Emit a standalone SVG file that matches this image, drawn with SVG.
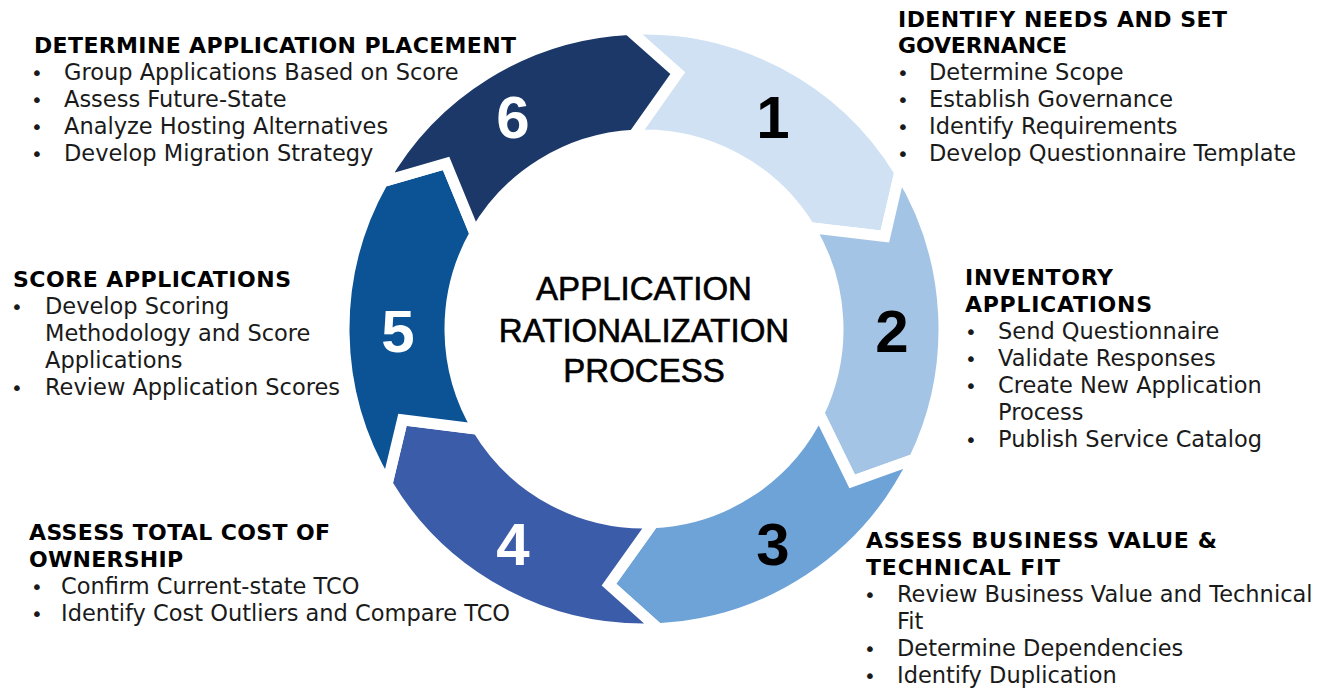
<svg xmlns="http://www.w3.org/2000/svg" width="1329" height="689" viewBox="0 0 1329 689">
<style>
.seg{stroke:#ffffff;stroke-width:11;stroke-linejoin:miter;stroke-miterlimit:10}
.t{font-family:"DejaVu Sans",Verdana,sans-serif;font-size:22px;font-weight:bold;fill:#000}
.b{font-family:"DejaVu Sans",Verdana,sans-serif;font-size:22.5px;fill:#1a1a1a}
.d{font-family:"DejaVu Sans",Verdana,sans-serif;font-size:20px;fill:#1a1a1a;text-anchor:middle}
.num{font-family:"Liberation Sans",Arial,sans-serif;font-size:60px;font-weight:bold;text-anchor:middle}
.ctr{font-family:"Liberation Sans",Arial,sans-serif;font-size:33px;fill:#000;stroke:#000;stroke-width:0.6;text-anchor:middle}
</style>
<rect width="1329" height="689" fill="#ffffff"/>

<g id="step1">
<path class="seg" fill="#cfe1f3" d="M 628.30 29.41 A 300 300 0 0 1 899.79 172.25 L 884.86 236.54 L 809.41 227.64 A 194 194 0 0 0 633.85 135.27 L 677.68 73.21 Z"/>
<text class="num" x="773" y="138" fill="#000">1</text>
<text class="t" x="898" y="27" textLength="329">IDENTIFY NEEDS AND SET</text>
<text class="t" x="898" y="53" textLength="169">GOVERNANCE</text>
<text class="d" x="903" y="80">•</text><text class="b" x="929" y="80">Determine Scope</text>
<text class="d" x="903" y="107">•</text><text class="b" x="929" y="107">Establish Governance</text>
<text class="d" x="903" y="134">•</text><text class="b" x="929" y="134">Identify Requirements</text>
<text class="d" x="903" y="161">•</text><text class="b" x="929" y="161">Develop Questionnaire Template</text>
</g>

<g id="step2">
<path class="seg" fill="#a4c4e6" d="M 899.79 172.25 A 300 300 0 0 1 914.32 459.10 L 852.20 481.38 L 818.81 413.13 A 194 194 0 0 0 809.41 227.64 L 884.86 236.54 Z"/>
<text class="num" x="892" y="352" fill="#000">2</text>
<text class="t" x="965" y="285" textLength="148">INVENTORY</text>
<text class="t" x="965" y="312" textLength="187">APPLICATIONS</text>
<text class="d" x="971" y="339">•</text><text class="b" x="998" y="339">Send Questionnaire</text>
<text class="d" x="971" y="366">•</text><text class="b" x="998" y="366">Validate Responses</text>
<text class="d" x="971" y="393">•</text><text class="b" x="998" y="393">Create New Application</text>
<text class="b" x="998" y="420">Process</text>
<text class="d" x="971" y="447">•</text><text class="b" x="998" y="447">Publish Service Catalog</text>
</g>

<g id="step3">
<path class="seg" fill="#6ea3d8" d="M 914.32 459.10 A 300 300 0 0 1 658.13 628.67 L 608.99 584.61 L 653.14 522.78 A 194 194 0 0 0 818.81 413.13 L 852.20 481.38 Z"/>
<text class="num" x="773" y="565" fill="#000">3</text>
<text class="t" x="866" y="548" textLength="351">ASSESS BUSINESS VALUE &amp;</text>
<text class="t" x="866" y="575" textLength="194">TECHNICAL FIT</text>
<text class="d" x="870" y="602">•</text><text class="b" x="897" y="602">Review Business Value and Technical</text>
<text class="b" x="897" y="629">Fit</text>
<text class="d" x="870" y="656">•</text><text class="b" x="897" y="656">Determine Dependencies</text>
<text class="d" x="870" y="683">•</text><text class="b" x="897" y="683">Identify Duplication</text>
</g>

<g id="step4">
<path class="seg" fill="#3b5ca8" d="M 658.13 628.67 A 300 300 0 0 1 387.12 483.96 L 402.50 419.77 L 477.88 429.21 A 194 194 0 0 0 653.14 522.78 L 608.99 584.61 Z"/>
<text class="num" x="513" y="565" fill="#fff">4</text>
<text class="t" x="29" y="540" textLength="301">ASSESS TOTAL COST OF</text>
<text class="t" x="29" y="567" textLength="154">OWNERSHIP</text>
<text class="d" x="37" y="594">•</text><text class="b" x="61" y="594">Confirm Current-state TCO</text>
<text class="d" x="37" y="621">•</text><text class="b" x="61" y="621">Identify Cost Outliers and Compare TCO</text>
</g>

<g id="step5">
<path class="seg" fill="#0b5395" d="M 387.12 483.96 A 300 300 0 0 1 382.64 181.73 L 446.07 163.51 L 474.98 233.76 A 194 194 0 0 0 477.88 429.21 L 402.50 419.77 Z"/>
<text class="num" x="398" y="352" fill="#fff">5</text>
<text class="t" x="13" y="287" textLength="278">SCORE APPLICATIONS</text>
<text class="d" x="17" y="314">•</text><text class="b" x="45" y="314">Develop Scoring</text>
<text class="b" x="45" y="341">Methodology and Score</text>
<text class="b" x="45" y="368">Applications</text>
<text class="d" x="17" y="395">•</text><text class="b" x="45" y="395">Review Application Scores</text>
</g>

<g id="step6">
<path class="seg" fill="#1b3868" d="M 382.64 181.73 A 300 300 0 0 1 628.30 29.41 L 677.68 73.21 L 633.85 135.27 A 194 194 0 0 0 474.98 233.76 L 446.07 163.51 Z"/>
<text class="num" x="513" y="138" fill="#fff">6</text>
<text class="t" x="34" y="53" textLength="482">DETERMINE APPLICATION PLACEMENT</text>
<text class="d" x="37" y="80">•</text><text class="b" x="64" y="80">Group Applications Based on Score</text>
<text class="d" x="37" y="107">•</text><text class="b" x="64" y="107">Assess Future-State</text>
<text class="d" x="37" y="134">•</text><text class="b" x="64" y="134">Analyze Hosting Alternatives</text>
<text class="d" x="37" y="161">•</text><text class="b" x="64" y="161">Develop Migration Strategy</text>
</g>

<g id="center">
<text class="ctr" x="644" y="300">APPLICATION</text>
<text class="ctr" x="644" y="342">RATIONALIZATION</text>
<text class="ctr" x="644" y="382">PROCESS</text>
</g>
</svg>
